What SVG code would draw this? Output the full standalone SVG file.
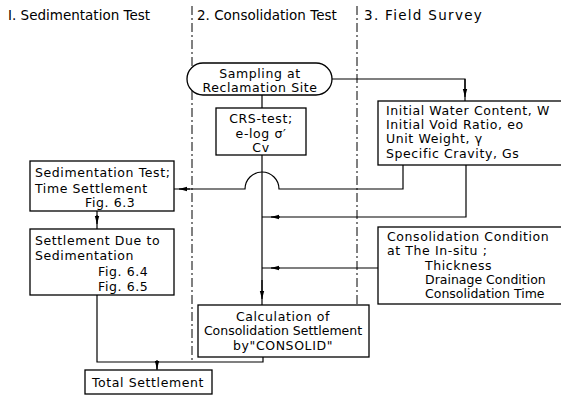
<svg xmlns="http://www.w3.org/2000/svg" width="561" height="395" viewBox="0 0 561 395">
<defs>
<style>
text{font-family:"DejaVu Sans","Liberation Sans",sans-serif;font-size:12.5px;letter-spacing:0.6px;fill:#000}
.h{font-size:13.5px;letter-spacing:0px}
.h3{letter-spacing:1.3px}
.t{letter-spacing:0px}
.b{fill:#fff;stroke:#000;stroke-width:1.3}
.l{fill:none;stroke:#000;stroke-width:1.2}
.d{fill:none;stroke:#000;stroke-width:1;stroke-dasharray:9,3,2,3}
.c{text-anchor:middle}
</style>
<marker id="a" viewBox="0 0 8 6" refX="8" refY="3" markerWidth="8" markerHeight="6" markerUnits="userSpaceOnUse" orient="auto"><path d="M0,0.8 L8,3 L0,5.2 Z" fill="#000"/></marker>
</defs>
<rect width="561" height="395" fill="#fff"/>
<g id="headers">
<text class="h" x="8" y="20">I. Sedimentation Test</text>
<text class="h" x="197" y="20">2. Consolidation Test</text>
<text class="h h3" x="364" y="20">3. Field Survey</text>
</g>
<g id="dividers">
<path class="d" d="M192,6 V362"/>
<path class="d" d="M357,6 V305"/>
</g>
<g id="connectors">
<path class="l" d="M262,95 V108"/>
<path class="l" d="M332,79 H465 V101"/>
<path class="l" d="M465,79 V97" marker-end="url(#a)"/>
<path class="l" d="M262,155 V305"/>
<path class="l" d="M262,280 V299" marker-end="url(#a)"/>
<path class="l" d="M403,165 V189 H279 A17,17 0 0 0 245,189 H174"/>
<path class="l" d="M190,189 H179" marker-end="url(#a)"/>
<path class="l" d="M466,165 V217 H262"/>
<path class="l" d="M280,217 H271" marker-end="url(#a)"/>
<path class="l" d="M378,268 H262"/>
<path class="l" d="M280,268 H271" marker-end="url(#a)"/>
<path class="l" d="M97,211 V229"/>
<path class="l" d="M97,215 V224" marker-end="url(#a)"/>
<path class="l" d="M97,295 V362 H263 V357"/>
<path class="l" d="M157,362 V370"/>
<path class="l" d="M157,360 V369" marker-end="url(#a)"/>
</g>
<g id="sampling">
<rect class="b" x="187" y="63" width="145" height="32" rx="16" ry="16"/>
<text class="c" x="260" y="78">Sampling at</text>
<text class="c" x="260" y="92">Reclamation Site</text>
</g>
<g id="crs">
<rect class="b" x="216" y="108" width="90" height="47"/>
<text class="c" x="261" y="123">CRS-test;</text>
<text class="c" x="261" y="138">e-log σ′</text>
<text class="c" x="261" y="152">Cv</text>
</g>
<g id="initial">
<rect class="b" x="378" y="101" width="190" height="64"/>
<text x="386" y="115">Initial Water Content, W</text>
<text x="386" y="129">Initial Void  Ratio, eo</text>
<text x="386" y="143">Unit Weight, γ</text>
<text x="386" y="158">Specific Cravity, Gs</text>
</g>
<g id="sedtest">
<rect class="b" x="30" y="161" width="144" height="50"/>
<text x="35" y="177">Sedimentation Test;</text>
<text x="35" y="193">Time Settlement</text>
<text x="85" y="207">Fig. 6.3</text>
</g>
<g id="settlement">
<rect class="b" x="30" y="229" width="144" height="66"/>
<text x="35" y="245">Settlement Due to</text>
<text x="35" y="260">Sedimentation</text>
<text x="98" y="276">Fig. 6.4</text>
<text x="98" y="291">Fig. 6.5</text>
</g>
<g id="condition">
<rect class="b" x="378" y="227" width="190" height="77"/>
<text x="387" y="241">Consolidation Condition</text>
<text x="387" y="255">at The In-situ ;</text>
<text x="425" y="270">Thickness</text>
<text class="t" x="425" y="284">Drainage Condition</text>
<text class="t" x="425" y="298">Consolidation Time</text>
</g>
<g id="calc">
<rect class="b" x="198" y="305" width="171" height="52"/>
<text class="c" x="283" y="321">Calculation of</text>
<text class="c t" x="283" y="335">Consolidation Settlement</text>
<text class="c" x="283" y="350">by"CONSOLID"</text>
</g>
<g id="total">
<rect class="b" x="85" y="370" width="127" height="24"/>
<text class="c" x="148" y="387">Total Settlement</text>
</g>
</svg>
